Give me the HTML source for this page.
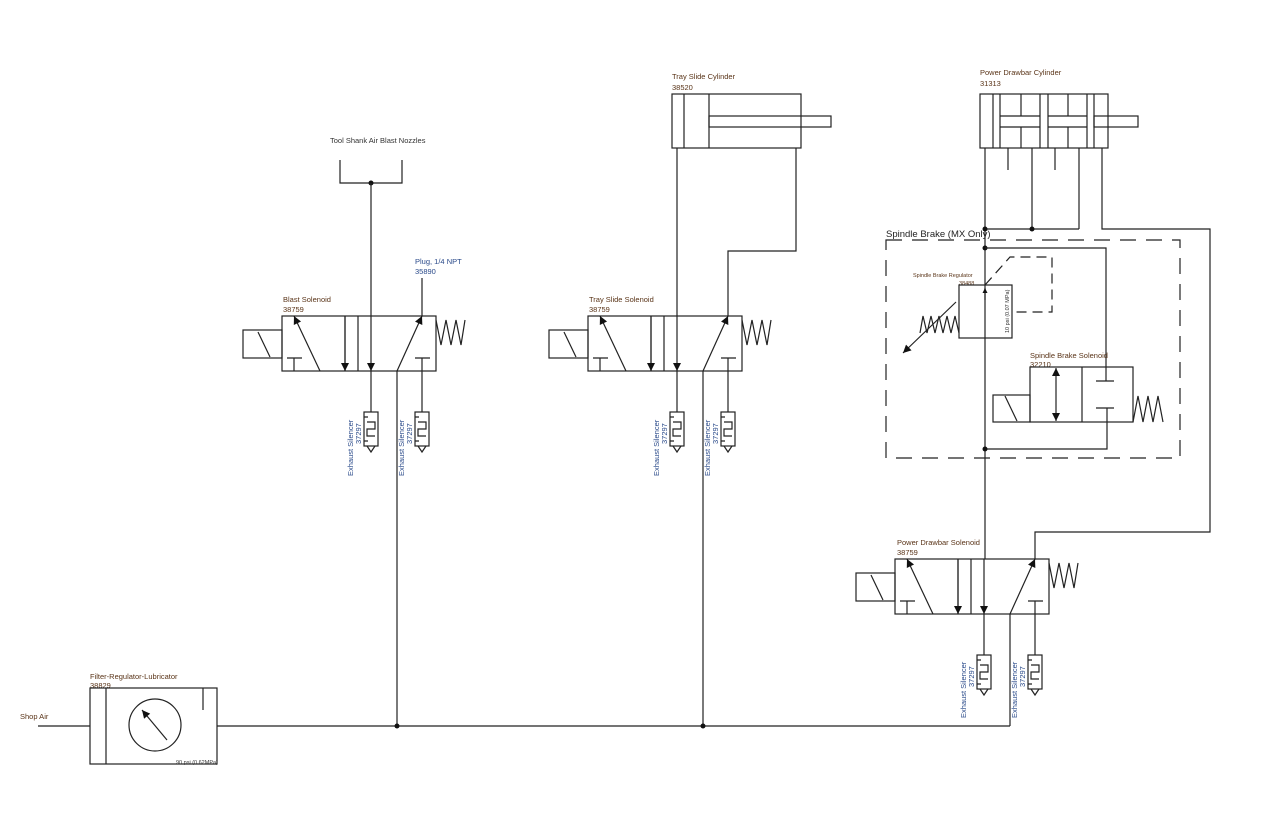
<!DOCTYPE html>
<html><head><meta charset="utf-8"><style>
html,body{margin:0;padding:0;background:#fff;}
svg{display:block;font-family:"Liberation Sans",sans-serif;}
.l{stroke:#222;stroke-width:1.2;fill:none}
.t{font-size:7.5px;fill:#5a3418}
.b{font-size:7.5px;fill:#2a4a8a}
</style></head><body>
<svg width="1268" height="817" viewBox="0 0 1268 817" xmlns="http://www.w3.org/2000/svg">
<defs>
<marker id="ah" viewBox="0 0 10 10" refX="10" refY="5" markerWidth="5" markerHeight="9" orient="auto" markerUnits="userSpaceOnUse">
<path d="M0,0 L10,5 L0,10 z" fill="#111"/></marker>
<marker id="ah2" viewBox="0 0 10 10" refX="10" refY="5" markerWidth="14" markerHeight="8" orient="auto" markerUnits="userSpaceOnUse">
<path d="M0,0 L10,5 L0,10 z" fill="#111"/></marker>
<g id="valve">
<rect class="l" x="0" y="0" width="154" height="55"/>
<rect class="l" x="-39" y="14" width="39" height="28"/>
<line class="l" x1="-24" y1="16" x2="-12" y2="41"/>
<line class="l" x1="63" y1="0" x2="63" y2="55"/>
<line class="l" x1="76" y1="0" x2="76" y2="55"/>
<line class="l" x1="38" y1="55" x2="12" y2="0" marker-end="url(#ah2)"/>
<path class="l" d="M5,42 H20 M12,42 V55"/>
<line class="l" x1="63" y1="0" x2="63" y2="55" marker-end="url(#ah2)"/>
<line class="l" x1="89" y1="0" x2="89" y2="55" marker-end="url(#ah2)"/>
<line class="l" x1="115" y1="55" x2="140" y2="0" marker-end="url(#ah2)"/>
<path class="l" d="M133,42 H148 M140,42 V55"/>
<path class="l" d="M154,4 L159,29 L164,4 L169,29 L174,4 L179,29 L183,4"/>
</g>
<g id="sil">
<rect class="l" x="-7" y="0" width="14" height="34"/>
<path class="l" d="M-4,10 H4 V17 H-4 V24 H4 M-7,5 H-3 M-7,29 H-3"/>
<path class="l" d="M-4,34 L0,40 L4,34"/>
</g>
</defs>

<!-- Tool shank -->
<text class="t" x="330" y="143" style="fill:#333">Tool Shank Air Blast Nozzles</text>
<path class="l" d="M340,160 V183 H402 V160"/>
<circle cx="371" cy="183" r="2.5" fill="#111"/>
<line class="l" x1="371" y1="183" x2="371" y2="316"/>

<!-- Blast valve -->
<text class="t" x="283" y="302">Blast Solenoid</text>
<text class="t" x="283" y="312">38759</text>
<text class="b" x="415" y="264">Plug, 1/4 NPT</text>
<text class="b" x="415" y="274">35890</text>
<line class="l" x1="422" y1="278" x2="422" y2="316"/>
<use href="#valve" x="282" y="316"/>
<line class="l" x1="371" y1="371" x2="371" y2="412"/>
<line class="l" x1="422" y1="371" x2="422" y2="412"/>
<use href="#sil" x="371" y="412"/>
<use href="#sil" x="422" y="412"/>
<line class="l" x1="397" y1="371" x2="397" y2="726"/>
<text class="b" transform="translate(353,476) rotate(-90)">Exhaust Silencer</text>
<text class="b" transform="translate(361,444) rotate(-90)">37297</text>
<text class="b" transform="translate(404,476) rotate(-90)">Exhaust Silencer</text>
<text class="b" transform="translate(412,444) rotate(-90)">37297</text>

<!-- Tray slide -->
<text class="t" x="672" y="79">Tray Slide Cylinder</text>
<text class="t" x="672" y="90">38520</text>
<rect class="l" x="672" y="94" width="129" height="54"/>
<line class="l" x1="684" y1="94" x2="684" y2="148"/>
<line class="l" x1="709" y1="94" x2="709" y2="148"/>
<rect class="l" x="709" y="116" width="122" height="11" fill="#fff"/>
<line class="l" x1="677" y1="148" x2="677" y2="316"/>
<path class="l" d="M796,148 V251 H728 V316"/>
<text class="t" x="589" y="302">Tray Slide Solenoid</text>
<text class="t" x="589" y="312">38759</text>
<use href="#valve" x="588" y="316"/>
<line class="l" x1="677" y1="371" x2="677" y2="412"/>
<line class="l" x1="728" y1="371" x2="728" y2="412"/>
<use href="#sil" x="677" y="412"/>
<use href="#sil" x="728" y="412"/>
<line class="l" x1="703" y1="371" x2="703" y2="726"/>
<text class="b" transform="translate(659,476) rotate(-90)">Exhaust Silencer</text>
<text class="b" transform="translate(667,444) rotate(-90)">37297</text>
<text class="b" transform="translate(710,476) rotate(-90)">Exhaust Silencer</text>
<text class="b" transform="translate(718,444) rotate(-90)">37297</text>

<!-- Power drawbar cylinder -->
<text class="t" x="980" y="75">Power Drawbar Cylinder</text>
<text class="t" x="980" y="86">31313</text>
<rect class="l" x="980" y="94" width="128" height="54"/>
<path class="l" d="M993,94V148 M1000,94V148 M1021,94V116 M1021,127V148 M1040,94V148 M1048,94V148 M1068,94V116 M1068,127V148 M1087,94V148 M1094,94V148"/>
<path class="l" d="M1000,116H1040 M1000,127H1040 M1048,116H1087 M1048,127H1087"/>
<rect class="l" x="1094" y="116" width="44" height="11"/>
<path class="l" d="M1008,148V170 M1055,148V170 M1032,148V229 M1079,148V229 M985,148V559 M985,229H1079"/>
<path class="l" d="M1102,148 V229 H1210 V532 H1035 V559"/>
<circle cx="985" cy="229" r="2.5" fill="#111"/>
<circle cx="1032" cy="229" r="2.5" fill="#111"/>

<!-- Spindle brake box -->
<text x="886" y="237" style="font-size:9.5px;fill:#222">Spindle Brake (MX Only)</text>
<rect x="886" y="240" width="294" height="218" fill="none" stroke="#222" stroke-width="1.2" stroke-dasharray="16,10"/>
<circle cx="985" cy="248" r="2.5" fill="#111"/>
<path class="l" d="M985,248 H1106 V381"/>
<!-- regulator -->
<text x="913" y="277" style="font-size:5.5px;fill:#5a3418">Spindle Brake Regulator</text>
<text x="959" y="285" style="font-size:5.5px;fill:#5a3418">38488</text>
<rect class="l" x="959" y="285" width="53" height="53"/>
<line class="l" x1="985" y1="300" x2="985" y2="288" marker-end="url(#ah)"/>
<path d="M985,285 L1010,257 H1052 V312 H1012" fill="none" stroke="#222" stroke-width="1.2" stroke-dasharray="10,6"/>
<path class="l" d="M959,333 L955,316 L951,333 L947,316 L943,333 L939,316 L935,333 L931,316 L927,333 L923,316 L920,333"/>
<line class="l" x1="956" y1="302" x2="903" y2="353" marker-end="url(#ah2)"/>
<text transform="translate(1009,333) rotate(-90)" style="font-size:5.5px;fill:#333">10 psi (0.07 MPa)</text>
<!-- spindle brake solenoid -->
<text class="t" x="1030" y="358">Spindle Brake Solenoid</text>
<text class="t" x="1030" y="367">32210</text>
<rect class="l" x="1030" y="367" width="103" height="55"/>
<line class="l" x1="1082" y1="367" x2="1082" y2="422"/>
<rect class="l" x="993" y="395" width="37" height="27"/>
<line class="l" x1="1005" y1="396" x2="1017" y2="421"/>
<line class="l" x1="1056" y1="395" x2="1056" y2="368" marker-end="url(#ah2)"/>
<line class="l" x1="1056" y1="395" x2="1056" y2="421" marker-end="url(#ah2)"/>
<path class="l" d="M1096,381 H1114 M1096,408 H1114 M1107,408 V449 H985"/>
<path class="l" d="M1133,422 L1138,396 L1143,422 L1148,396 L1153,422 L1158,396 L1163,422"/>
<circle cx="985" cy="449" r="2.5" fill="#111"/>

<!-- Power drawbar valve -->
<text class="t" x="897" y="545">Power Drawbar Solenoid</text>
<text class="t" x="897" y="555">38759</text>
<use href="#valve" x="895" y="559"/>
<line class="l" x1="984" y1="614" x2="984" y2="655"/>
<line class="l" x1="1035" y1="614" x2="1035" y2="655"/>
<use href="#sil" x="984" y="655"/>
<use href="#sil" x="1035" y="655"/>
<path class="l" d="M1010,614 V726"/>
<text class="b" transform="translate(966,718) rotate(-90)">Exhaust Silencer</text>
<text class="b" transform="translate(974,687) rotate(-90)">37297</text>
<text class="b" transform="translate(1017,718) rotate(-90)">Exhaust Silencer</text>
<text class="b" transform="translate(1025,687) rotate(-90)">37297</text>

<!-- FRL + main line -->
<text x="20" y="719" style="font-size:7.5px;fill:#5a3418">Shop Air</text>
<line class="l" x1="38" y1="726" x2="90" y2="726"/>
<text class="t" x="90" y="679">Filter-Regulator-Lubricator</text>
<text class="t" x="90" y="688">38829</text>
<rect class="l" x="90" y="688" width="127" height="76"/>
<line class="l" x1="106" y1="688" x2="106" y2="764"/>
<line class="l" x1="203" y1="688" x2="203" y2="710"/>
<circle class="l" cx="155" cy="725" r="26"/>
<line class="l" x1="167" y1="740" x2="142" y2="710" marker-end="url(#ah2)"/>
<text x="176" y="764" style="font-size:5.5px;fill:#333">90 psi (0.62MPa)</text>
<line class="l" x1="217" y1="726" x2="1010" y2="726"/>
<circle cx="397" cy="726" r="2.5" fill="#111"/>
<circle cx="703" cy="726" r="2.5" fill="#111"/>
</svg>
</body></html>
